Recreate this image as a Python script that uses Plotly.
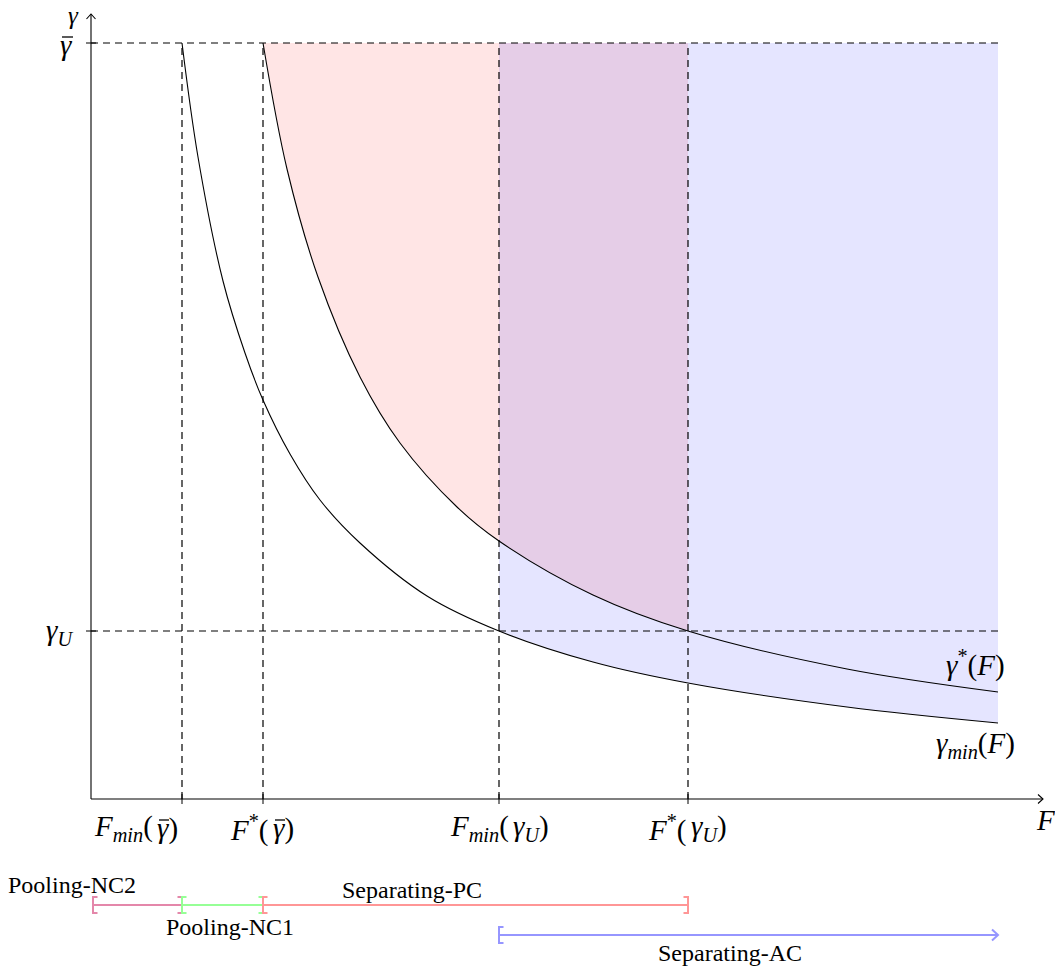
import plotly.graph_objects as go

# ---------------- data ----------------
F_ticks = [0.91, 1.72, 4.08, 5.97]
# tick labels split at the gamma so a bar can be drawn over gamma-bar
F_tick_left = [
    "<i>F</i><sub><i>min</i></sub>(",
    "<i>F</i><sup>*</sup>(",
    "<i>F</i><sub><i>min</i></sub>(",
    "<i>F</i><sup>*</sup>(",
]
F_tick_right = [
    "<i>γ</i>)",
    "<i>γ</i>)",
    "<i>γ</i><sub><i>U</i></sub>)",
    "<i>γ</i><sub><i>U</i></sub>)",
]
F_tick_bar = [True, True, False, False]
gamma_levels = [7.56, 1.68]
gamma_level_labels = ["<i>γ</i>", "<i>γ</i><sub><i>U</i></sub>"]
gamma_level_bar = [True, False]
F_end = 9.07

gmin_F = [0.91, 1.07, 1.32, 1.54, 1.72, 1.99, 2.29, 2.69, 3.36, 4.08, 5.02, 5.97, 7.56, 9.07]
gmin_y = [7.56, 6.42, 5.18, 4.46, 3.99, 3.45, 2.99, 2.56, 2.03, 1.68, 1.37, 1.16, 0.92, 0.76]

gstar_F = [1.72, 1.96, 2.27, 2.69, 3.09, 3.66, 4.08, 5.02, 5.97, 7.56, 9.07]
gstar_y = [7.56, 6.30, 5.22, 4.22, 3.56, 2.92, 2.58, 2.04, 1.68, 1.30, 1.07]

interval_names = ["Pooling-NC2", "Pooling-NC1", "Separating-PC", "Separating-AC"]
interval_start = [0.02, 0.91, 1.72, 4.08]
interval_end = [0.91, 1.72, 5.97, 9.07]

# ---------------- styling ----------------
W, H = 1055, 969
X0, Y0 = 91, 799     # pixel position of origin
S = 100.0            # pixels per data unit
xr = [(0 - X0) / S, (W - X0) / S]
yr = [(Y0 - H) / S, (Y0 - 0) / S]
PX = 1 / S

FONT = "Liberation Serif"
MATH_SIZE = 29
TXT_SIZE = 24
DASH = "7px,5px"

fig = go.Figure()

gbar, gU = gamma_levels

# red region: between gamma* and gamma-bar, F*(gbar) .. F*(gU)
sel = [i for i, f in enumerate(gstar_F) if F_ticks[1] - 1e-9 <= f <= F_ticks[3] + 1e-9]
rx = [gstar_F[i] for i in sel]
ry = [gstar_y[i] for i in sel]
fig.add_trace(go.Scatter(x=[rx[0], rx[-1]], y=[gbar, gbar], mode="lines",
                         line=dict(width=0), hoverinfo="skip", showlegend=False))
fig.add_trace(go.Scatter(x=rx, y=ry, mode="lines", line=dict(width=0, shape="spline"),
                         fill="tonexty", fillcolor="rgba(255,0,0,0.1)",
                         hoverinfo="skip", showlegend=False))

# blue region: between gamma_min and gamma-bar, Fmin(gU) .. end
sel = [i for i, f in enumerate(gmin_F) if f >= F_ticks[2] - 1e-9]
bx = [gmin_F[i] for i in sel]
by = [gmin_y[i] for i in sel]
fig.add_trace(go.Scatter(x=[bx[0], bx[-1]], y=[gbar, gbar], mode="lines",
                         line=dict(width=0), hoverinfo="skip", showlegend=False))
fig.add_trace(go.Scatter(x=bx, y=by, mode="lines", line=dict(width=0, shape="spline"),
                         fill="tonexty", fillcolor="rgba(0,0,255,0.1)",
                         hoverinfo="skip", showlegend=False))

# curves
fig.add_trace(go.Scatter(x=gmin_F, y=gmin_y, mode="lines",
                         line=dict(color="black", width=1.1, shape="spline"),
                         hoverinfo="skip", showlegend=False))
fig.add_trace(go.Scatter(x=gstar_F, y=gstar_y, mode="lines",
                         line=dict(color="black", width=1.1, shape="spline"),
                         hoverinfo="skip", showlegend=False))

shapes = []
def line(x0, y0, x1, y1, color="black", width=1.0, dash=None):
    d = dict(type="line", x0=x0, y0=y0, x1=x1, y1=y1, xref="x", yref="y",
             line=dict(color=color, width=width))
    if dash:
        d["line"]["dash"] = dash
    shapes.append(d)

def path(pts, color="black", width=1.0):
    p = "M " + " L ".join(f"{a},{b}" for a, b in pts)
    shapes.append(dict(type="path", path=p, xref="x", yref="y",
                       line=dict(color=color, width=width)))

# dashed guides
for g in gamma_levels:
    line(0, g, F_end, g, dash=DASH, width=1.2)
for f in F_ticks:
    line(f, 0, f, gbar, dash=DASH, width=1.2)

# axes
ax_end = (1043 - X0) / S
ay_end = (Y0 - 14) / S
line(0, 0, ax_end, 0, width=1.1)
line(0, 0, 0, ay_end, width=1.1)
path([(ax_end - 0.05, 0.045), (ax_end, 0), (ax_end - 0.05, -0.045)], width=1.1)
path([(-0.045, ay_end - 0.05), (0, ay_end), (0.045, ay_end - 0.05)], width=1.1)
for f in F_ticks:
    line(f, -0.05, f, 0.05, width=1.0)
for g in gamma_levels:
    line(-0.05, g, 0.05, g, width=1.0)

# interval bars
interval_colors = ["rgb(228,135,170)", "rgb(150,255,150)", "rgb(255,150,150)", "rgb(150,150,255)"]
interval_y = [-1.06, -1.06, -1.06, -1.36]
interval_arrow = [False, False, False, True]
hh, sw = 0.08, 0.045
for a, b, c, yy, arr in zip(interval_start, interval_end, interval_colors, interval_y, interval_arrow):
    line(a, yy, b, yy, color=c, width=2)
    path([(a + sw, yy + hh), (a, yy + hh), (a, yy - hh), (a + sw, yy - hh)], color=c, width=2)
    if arr:
        path([(b - 0.06, yy + 0.055), (b, yy), (b - 0.06, yy - 0.055)], color=c, width=2)
    else:
        path([(b - sw, yy + hh), (b, yy + hh), (b, yy - hh), (b - sw, yy - hh)], color=c, width=2)

annotations = []
def text(x, y, t, size=MATH_SIZE, xanchor="center"):
    annotations.append(dict(x=x, y=y, xref="x", yref="y", text=t, showarrow=False,
                            xanchor=xanchor, yanchor="middle",
                            font=dict(family=FONT, size=size, color="black")))

# x tick labels (split at the gamma)
split_x = [0.64, 1.80, 4.20, 5.98]
label_y = -0.29
for sx, lt, rt, bar in zip(split_x, F_tick_left, F_tick_right, F_tick_bar):
    text(sx, label_y, lt, xanchor="right")
    text(sx, label_y, rt, xanchor="left")
    if bar:
        line(sx + 4 * PX, label_y + 8 * PX, sx + 14 * PX, label_y + 8 * PX, width=1.3)

# y tick labels
ylab_x = [-0.25, -0.32]
ylab_dy = [-0.02, -0.01]
for lx, g, dy, t, bar in zip(ylab_x, gamma_levels, ylab_dy, gamma_level_labels, gamma_level_bar):
    text(lx, g + dy, t)
    if bar:
        line(lx - 4 * PX, g + dy + 8 * PX, lx + 7 * PX, g + dy + 8 * PX, width=1.3)

text(-0.18, 7.84, "<i>γ</i>", size=25)
text(9.54, -0.21, "<i>F</i>")
text(8.84, 1.36, "<i>γ</i><sup>*</sup>(<i>F</i>)")
text(8.84, 0.54, "<i>γ</i><sub><i>min</i></sub>(<i>F</i>)")

# interval labels
interval_label_pos = [(-0.19, -0.86), (1.39, -1.28), (3.21, -0.91), (6.39, -1.54)]
for (lx, ly), nm in zip(interval_label_pos, interval_names):
    text(lx, ly, nm, size=TXT_SIZE)

fig.update_layout(
    width=W, height=H,
    margin=dict(l=0, r=0, t=0, b=0),
    paper_bgcolor="white", plot_bgcolor="white",
    xaxis=dict(range=xr, visible=False, fixedrange=True),
    yaxis=dict(range=yr, visible=False, fixedrange=True),
    shapes=shapes, annotations=annotations,
    showlegend=False,
)

fig.write_html("out.html", include_plotlyjs=True, config={"displayModeBar": False},
               post_script="document.body.style.margin='0';document.body.style.overflow='hidden';")
